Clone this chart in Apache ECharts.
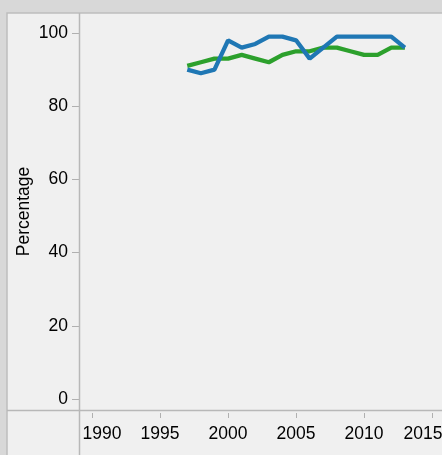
<!DOCTYPE html>
<html>
<head>
<meta charset="utf-8">
<script src="https://cdn.jsdelivr.net/npm/echarts@6/dist/echarts.min.js"></script>
<style>
  html, body { margin: 0; padding: 0; background: #d8d8d8; }
  #chart { width: 442px; height: 455px; }
</style>
</head>
<body>
<div id="chart"></div>
<script>
// Yearly percentages, 1997–2013
const years = [1997, 1998, 1999, 2000, 2001, 2002, 2003, 2004, 2005, 2006, 2007, 2008, 2009, 2010, 2011, 2012, 2013];
const blueValues = [90, 89, 90, 98, 96, 97, 99, 99, 98, 93, 96, 99, 99, 99, 99, 99, 96];
const greenValues = [91, 92, 93, 93, 94, 93, 92, 94, 95, 95, 96, 96, 95, 94, 94, 96, 96];
const xTicks = [1990, 1995, 2000, 2005, 2010, 2015];
const yTicks = [0, 20, 40, 60, 80, 100];

const chart = echarts.init(document.getElementById('chart'));
const font = 'Liberation Sans, Arial, Helvetica, sans-serif';
const ink = '#000';

chart.setOption({
  backgroundColor: '#d8d8d8',
  animation: false,
  graphic: [
    { type: 'rect', z: -10, shape: { x: 7, y: 13, width: 440, height: 450 },
      style: { fill: '#f0f0f0', stroke: '#bdbdbd', lineWidth: 1.5 } },
    { type: 'line', z: 5, shape: { x1: 7, y1: 410.5, x2: 442, y2: 410.5 },
      style: { stroke: '#b8b8b8', lineWidth: 1.5 } },
    { type: 'line', z: 5, shape: { x1: 79.5, y1: 13, x2: 79.5, y2: 455 },
      style: { stroke: '#b8b8b8', lineWidth: 1.5 } }
  ],
  grid: { left: 79, top: 13, right: 0, bottom: 45, containLabel: false, outerBoundsMode: 'none' },
  xAxis: {
    type: 'value',
    min: 1989.04,
    max: 2015.73,
    offset: 3,
    axisLine: { show: false, onZero: false },
    splitLine: { show: false },
    axisTick: { show: true, inside: false, length: 5, customValues: xTicks, lineStyle: { color: '#b0b0b0', width: 1 } },
    axisLabel: {
      customValues: xTicks,
      margin: 12,
      fontSize: 17.5,
      color: ink,
      fontFamily: font,
      formatter: function (v) {
        if (v === xTicks[0]) return '{first|' + v + '}';
        if (v === xTicks[xTicks.length - 1]) return '{last|' + v + '}';
        return String(v);
      },
      rich: {
        first: { fontSize: 17.5, color: ink, fontFamily: font, padding: [0, 0, 0, 20] },
        last: { fontSize: 17.5, color: ink, fontFamily: font, padding: [0, 18, 0, 0] }
      }
    }
  },
  yAxis: {
    type: 'value',
    min: -3.0,
    max: 105.46,
    name: 'Percentage',
    nameLocation: 'middle',
    nameGap: 46,
    nameMoveOverlap: false,
    nameTextStyle: { fontSize: 17.5, color: ink, fontFamily: font },
    axisLine: { show: false, onZero: false },
    splitLine: { show: false },
    axisTick: { show: true, inside: false, length: 7, customValues: yTicks, lineStyle: { color: '#b0b0b0', width: 1 } },
    axisLabel: { customValues: yTicks, margin: 11, fontSize: 17.5, color: ink, fontFamily: font }
  },
  series: [
    {
      type: 'line',
      data: years.map((y, i) => [y, greenValues[i]]),
      showSymbol: false,
      lineStyle: { color: '#2ca02c', width: 4.3 },
      itemStyle: { color: '#2ca02c' },
      z: 2
    },
    {
      type: 'line',
      data: years.map((y, i) => [y, blueValues[i]]),
      showSymbol: false,
      lineStyle: { color: '#1f77b4', width: 4.3 },
      itemStyle: { color: '#1f77b4' },
      z: 3
    }
  ]
});
</script>
</body>
</html>
